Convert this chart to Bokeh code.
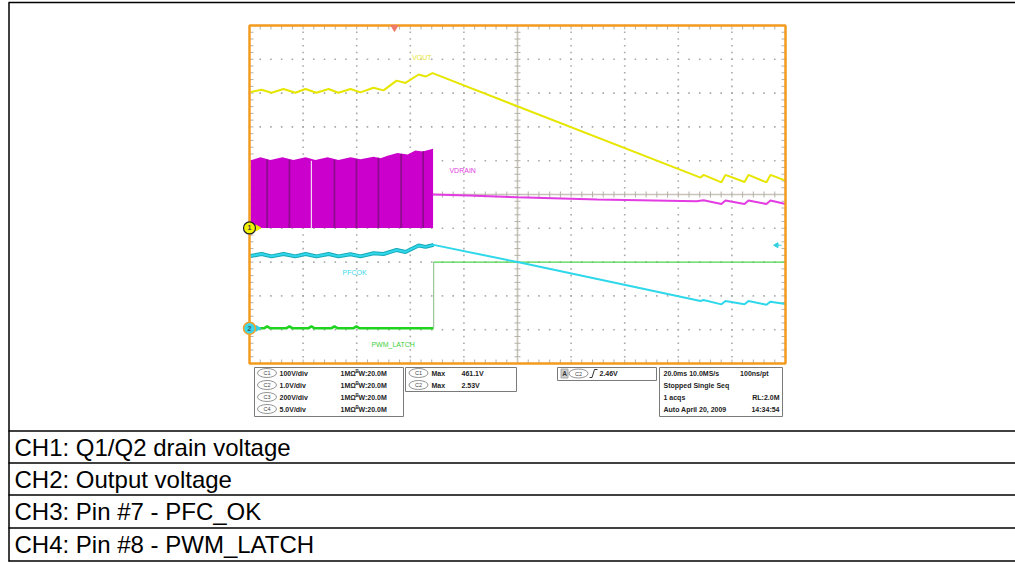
import numpy as np
from bokeh.plotting import figure
from bokeh.models import Range1d
from bokeh.core.properties import value
from bokeh.embed import file_html
from bokeh.resources import INLINE

# ---------------- data: time in ms (20 ms/div), amplitude in screen divisions ----------------
# CH1 (yellow) VOUT trace
vout_t = [-99.6, -95.5, -91.8, -87.3, -82.9, -79.1, -75.0, -70.5, -66.8, -62.3, -58.6, -53.7,
          -50.0, -45.1, -41.8, -36.9, -34.3, -31.7, 68.3, 69.4, 76.1, 77.6, 84.7, 86.2, 92.9, 94.4, 100.0]
vout_v = [3.03, 3.10, 3.01, 3.12, 3.01, 3.12, 3.01, 3.12, 3.01, 3.12, 3.02, 3.16,
          3.08, 3.37, 3.30, 3.55, 3.49, 3.59, 0.50, 0.58, 0.36, 0.58, 0.37, 0.58, 0.36, 0.58, 0.41]

# VDRAIN switching envelope (filled block) and the line after switching stops
vdrain_env_t = [-99.6, -95.9, -92.2, -87.7, -83.6, -79.1, -75.4, -70.9, -66.8, -62.3, -58.6, -53.7,
                -51.1, -48.5, -44.8, -41.0, -38.1, -35.4, -31.5]
vdrain_env_top = [1.01, 1.10, 1.02, 1.10, 1.02, 1.10, 1.02, 1.10, 1.02, 1.10, 1.04, 1.12,
                  1.07, 1.15, 1.23, 1.18, 1.30, 1.27, 1.35]
vdrain_base = -0.99
vdrain_stripe_t = [-93.4, -85.1, -68.3, -60.1, -51.9, -43.4, -35.2]
vdrain_stripe_top = [1.03, 1.03, 1.03, 1.04, 1.09, 1.20, 1.28]
vdrain_gap_t = [-76.9]
vdrain_t = [-31.5, -18.3, 0.0, 29.7, 66.8, 69.4, 76.1, 77.6, 84.7, 86.2, 92.9, 94.4, 100.0]
vdrain_v = [0.00, -0.03, -0.08, -0.15, -0.20, -0.17, -0.28, -0.18, -0.28, -0.18, -0.28, -0.18, -0.28]

# CH2 (cyan) PFCOK trace
pfcok_t = [-99.6, -95.5, -91.8, -87.3, -82.9, -79.1, -75.0, -70.5, -66.8, -62.3, -58.6, -53.7,
           -50.0, -45.1, -41.8, -36.9, -34.3, -31.3, 0.0, 68.3, 69.4, 76.1, 77.6, 84.7, 86.2, 92.9, 94.4, 100.0]
pfcok_v = [-1.82, -1.76, -1.83, -1.76, -1.83, -1.76, -1.83, -1.76, -1.83, -1.77, -1.83, -1.74,
           -1.76, -1.64, -1.70, -1.51, -1.55, -1.49, -2.00, -3.15, -3.12, -3.25, -3.15, -3.25, -3.15, -3.26, -3.17, -3.24]

# PWM_LATCH (green): low section, then high after the latch edge
pwm_low_t = [-99.6, -94.6, -93.4, -92.2, -86.3, -85.1, -83.9, -78.1, -76.9, -75.7, -69.5, -68.3,
             -67.1, -61.3, -60.1, -58.9, -31.3]
pwm_low_v = [-3.96, -3.96, -3.90, -3.96, -3.96, -3.90, -3.96, -3.96, -3.90, -3.96, -3.96, -3.90,
             -3.96, -3.96, -3.90, -3.96, -3.96]
pwm_high_t = [-31.3, 100.0]
pwm_high_v = [-2.00, -2.00]

ch1_ground = -0.99
ch2_ground = -3.96
trigger_pos_t = -45.9
trigger_level = -1.50

trace_labels = ["VOUT", "VDRAIN", "PFCOK", "PWM_LATCH"]
label_t = [-39.3, -25.4, -65.3, -54.5]
label_v = [4.04, 0.71, -2.31, -4.44]

# scope readout text
ch_names = ["C1", "C2", "C3", "C4"]
ch_scales = ["100V/div", "1.0V/div", "200V/div", "5.0V/div"]
ch_imped = ["1MΩ"] * 4
ch_bw = ["W:20.0M"] * 4
meas_ch = ["C1", "C2"]
meas_kind = ["Max", "Max"]
meas_val = ["461.1V", "2.53V"]
trig_text = "2.46V"
acq_left = ["20.0ms  10.0MS/s", "Stopped   Single Seq", "1 acqs", "Auto    April 20, 2009"]
acq_right = ["100ns/pt", "", "RL:2.0M", "14:34:54"]
table_rows = ["CH1: Q1/Q2 drain voltage", "CH2: Output voltage",
              "CH3: Pin #7 - PFC_OK", "CH4: Pin #8 - PWM_LATCH"]

# ---------------- layout (page pixels) ----------------
W, H, OFF = 1015, 563, 0
PL, PR, PT, PB = 249, 785, 25, 363
T_MIN, T_MAX, V_MIN, V_MAX = -100.0, 100.0, -5.0, 5.0
ms_px = (T_MAX - T_MIN) / (PR - PL)
dv_px = (V_MAX - V_MIN) / (PB - PT)
x_start = T_MIN - (PL - OFF) * ms_px
y_top = V_MAX + (PT - OFF) * dv_px

p = figure(width=W, height=H,
           x_range=Range1d(x_start, x_start + W * ms_px),
           y_range=Range1d(y_top - H * dv_px, y_top),
           x_axis_type=None, y_axis_type=None, toolbar_location=None,
           output_backend="svg", min_border=0, outline_line_color=None,
           background_fill_color="white", border_fill_color="white")
p.extra_x_ranges = {"px": Range1d(OFF, OFF + W)}
p.extra_y_ranges = {"px": Range1d(OFF + H, OFF)}
PX = dict(x_range_name="px", y_range_name="px")
FONT = value("Liberation Sans")

# ---------------- graticule ----------------
minor_t = np.round(np.arange(T_MIN, T_MAX + 0.01, 4.0), 6)
minor_v = np.round(np.arange(V_MIN, V_MAX + 0.001, 0.2), 6)
major_t = [-80, -60, -40, -20, 20, 40, 60, 80]
major_v = [-4, -3, -2, -1, 1, 2, 3, 4]
dx, dy = [], []
for t in major_t:
    for v in minor_v:
        dx.append(t); dy.append(v)
for v in major_v:
    for t in minor_t:
        dx.append(t); dy.append(v)
p.scatter(dx, dy, marker="square", size=1.6, fill_color="#a9a9a9", line_color=None)

tl_v = 4 * dv_px
tl_t = 4 * ms_px
gcol = "#b4b0a8"
p.segment(x0=minor_t, y0=[V_MAX] * len(minor_t), x1=minor_t, y1=[V_MAX - tl_v] * len(minor_t), line_color=gcol, line_width=1)
p.segment(x0=minor_t, y0=[V_MIN] * len(minor_t), x1=minor_t, y1=[V_MIN + tl_v] * len(minor_t), line_color=gcol, line_width=1)
p.segment(x0=[T_MIN] * len(minor_v), y0=minor_v, x1=[T_MIN + tl_t] * len(minor_v), y1=minor_v, line_color=gcol, line_width=1)
p.segment(x0=[T_MAX] * len(minor_v), y0=minor_v, x1=[T_MAX - tl_t] * len(minor_v), y1=minor_v, line_color=gcol, line_width=1)
# centre cross with ticks
p.segment(x0=[0, T_MIN], y0=[V_MIN, 0], x1=[0, T_MAX], y1=[V_MAX, 0], line_color="#c9c3ba", line_width=1.6)
p.segment(x0=[-3 * ms_px] * len(minor_v), y0=minor_v, x1=[3 * ms_px] * len(minor_v), y1=minor_v, line_color=gcol, line_width=1)
p.segment(x0=minor_t, y0=[-3 * dv_px] * len(minor_t), x1=minor_t, y1=[3 * dv_px] * len(minor_t), line_color=gcol, line_width=1)

# ---------------- traces ----------------
p.varea(x=vdrain_env_t, y1=[vdrain_base] * len(vdrain_env_t), y2=vdrain_env_top, fill_color="#cc00cc")
p.segment(x0=vdrain_stripe_t, y0=[vdrain_base] * len(vdrain_stripe_t), x1=vdrain_stripe_t, y1=vdrain_stripe_top,
          line_color="#8e0a8e", line_width=1.8)
p.segment(x0=vdrain_gap_t, y0=[vdrain_base], x1=vdrain_gap_t, y1=[1.0], line_color="#f4d4f4", line_width=1.2)
p.line(vdrain_t, vdrain_v, line_color="#e23ce2", line_width=2)

p.line(pwm_low_t, pwm_low_v, line_color="#1ed41e", line_width=2.5)
p.line([pwm_low_t[-1], pwm_high_t[0]], [pwm_low_v[-1], pwm_high_v[0]], line_color="#9cc89c", line_width=1.2)
p.line(pwm_high_t, pwm_high_v, line_color="#4cd64c", line_width=1.4)

n_wavy = 18
p.line(pfcok_t[:n_wavy], pfcok_v[:n_wavy], line_color="#1aa8b8", line_width=4)
p.line(pfcok_t, pfcok_v, line_color="#2ed8ea", line_width=2)

p.line(vout_t, vout_v, line_color="#e6e600", line_width=2)

p.text(x=label_t, y=label_v, text=trace_labels, text_color=["#e8e830", "#e040e0", "#40d8e8", "#40d040"],
       text_font=FONT, text_font_size="7px", text_baseline="middle", text_align="left")

# frame
p.quad(left=[T_MIN], right=[T_MAX], bottom=[V_MIN], top=[V_MAX], fill_color=None,
       line_color="#f29b1f", line_width=2.5)

# ground / trigger markers
p.scatter([T_MIN + 8 * ms_px], [ch1_ground], marker="triangle", angle=-np.pi / 2, size=6, color="#eaea00")
p.scatter([T_MIN], [ch1_ground], marker="circle", size=12, fill_color="#f2f200", line_color="#222222", line_width=1.2)
p.text([T_MIN], [ch1_ground], text=["1"], text_font=FONT, text_font_size="7px", text_font_style="bold",
       text_align="center", text_baseline="middle", text_color="#444444")
p.scatter([T_MIN + 8 * ms_px], [ch2_ground], marker="triangle", angle=-np.pi / 2, size=6, color="#30d0e0")
p.scatter([T_MIN], [ch2_ground], marker="circle", size=12, fill_color="#38d8e8", line_color="#f0a030", line_width=1.5)
p.text([T_MIN], [ch2_ground], text=["2"], text_font=FONT, text_font_size="7px", text_font_style="bold",
       text_align="center", text_baseline="middle", text_color="#555555")
p.scatter([trigger_pos_t], [V_MAX - 2 * dv_px], marker="inverted_triangle", size=7, color="#f07a6a")
p.scatter([T_MAX - 9 * ms_px], [trigger_level], marker="triangle", angle=np.pi / 2, size=5, color="#30d0e0")
p.segment([T_MAX - 8 * ms_px], [trigger_level], [T_MAX - 4 * ms_px], [trigger_level], line_color="#30d0e0", line_width=1)

# ---------------- readout boxes (page pixels) ----------------
p.quad(left=[254, 405, 557, 659], right=[403, 516, 656, 782], top=[367, 367, 367, 367],
       bottom=[416, 391, 380, 416], fill_color=None, line_color="#7a7a7a", line_width=1, **PX)
rows_y = [372.5, 384.5, 396.5, 408.5]
TXT = dict(text_font=FONT, text_font_size="7px", text_font_style="bold", text_baseline="middle",
           text_color="#222222", **PX)
BADGE = dict(fill_color=None, line_color="#777777", line_width=0.8, **PX)
BTXT = dict(text_font=FONT, text_font_size="5.5px", text_align="center", text_baseline="middle",
            text_color="#444444", **PX)

p.ellipse(x=[266.5] * 4, y=rows_y, width=19, height=9, **BADGE)
p.text(x=[266.5] * 4, y=rows_y, text=ch_names, **BTXT)
p.text(x=[279] * 4, y=rows_y, text=ch_scales, **TXT)
p.text(x=[340] * 4, y=rows_y, text=ch_imped, **TXT)
p.text(x=[355] * 4, y=[r - 2 for r in rows_y], text=["B"] * 4, text_font=FONT, text_font_size="4.5px",
       text_font_style="bold", text_baseline="middle", text_color="#222222", **PX)
p.text(x=[358] * 4, y=[r + 0.5 for r in rows_y], text=ch_bw, **TXT)

p.ellipse(x=[418] * 2, y=rows_y[:2], width=19, height=9, **BADGE)
p.text(x=[418] * 2, y=rows_y[:2], text=meas_ch, **BTXT)
p.text(x=[431] * 2, y=rows_y[:2], text=meas_kind, **TXT)
p.text(x=[461] * 2, y=rows_y[:2], text=meas_val, **TXT)

p.quad(left=[560.5], right=[567.5], top=[368.5], bottom=[377.5], fill_color="#cfcfcf", line_color="#999999",
       line_width=0.8, **PX)
p.text(x=[564], y=[373], text=["A"], text_font=FONT, text_font_size="6.5px", text_font_style="bold",
       text_align="center", text_baseline="middle", text_color="#333333", **PX)
p.ellipse(x=[578], y=[373], width=19, height=9, **BADGE)
p.text(x=[578], y=[373], text=["C2"], **BTXT)
p.line(x=[589, 591.5, 594, 597], y=[377, 377, 369, 369], line_color="#333333", line_width=1, **PX)
p.text(x=[599], y=[372.5], text=[trig_text], **TXT)

p.text(x=[663] * 4, y=rows_y, text=acq_left, **TXT)
p.text(x=[768, 779, 779, 779], y=rows_y, text=acq_right, text_align="right", **TXT)

# ---------------- caption table ----------------
p.segment(x0=[8] * 6, y0=[2, 430.5, 462.5, 494.5, 527.5, 560.5], x1=[OFF + W] * 6,
          y1=[2, 430.5, 462.5, 494.5, 527.5, 560.5], line_color="black", line_width=1.5, **PX)
p.segment(x0=[8.5], y0=[2], x1=[8.5], y1=[561], line_color="black", line_width=1.5, **PX)
p.text(x=[14] * 4, y=[446.5, 478.5, 511, 543.5], text=table_rows, text_font=FONT, text_font_size="24px",
       text_baseline="middle", text_color="black", **PX)

open("out.html", "w").write(file_html(p, INLINE))
